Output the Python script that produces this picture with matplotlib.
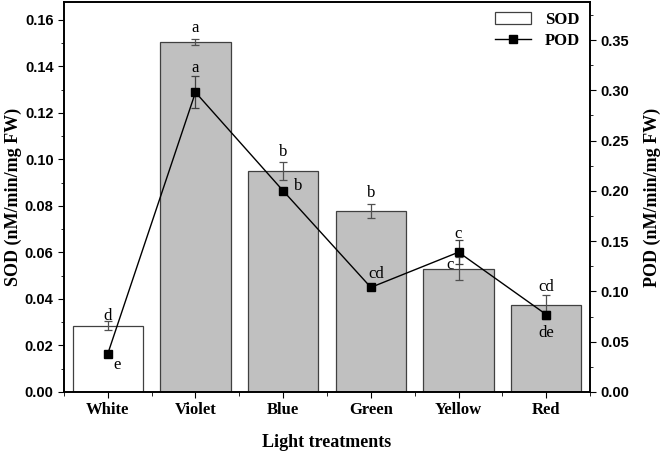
import matplotlib.pyplot as plt
import numpy as np
from matplotlib.ticker import MultipleLocator

# Daten
treatments = ["White", "Violet", "Blue", "Green", "Yellow", "Red"]
sod = [0.0285, 0.1505, 0.095, 0.078, 0.053, 0.0375]
sod_err = [0.002, 0.0012, 0.004, 0.003, 0.005, 0.004]
pod = [0.038, 0.298, 0.200, 0.104, 0.139, 0.077]
pod_err = [0.002, 0.016, 0.003, 0.002, 0.012, 0.004]
sod_letters = ["d", "a", "b", "b", "c", "cd"]
pod_letters = ["e", "a", "b", "cd", "c", "de"]

serif = "Liberation Serif"
sans = "Liberation Sans"

fig = plt.figure(figsize=(6.66, 4.54), dpi=100)
ax = fig.add_axes([0.096, 0.1366, 0.79, 0.859])
x = np.arange(len(treatments))

colors = ["white"] + ["#c0c0c0"] * 5
ax.bar(x, sod, width=0.8, color=colors, edgecolor="#404040", linewidth=0.9, label="SOD", zorder=2)
ax.errorbar(x, sod, yerr=sod_err, fmt="none", ecolor="#505050", elinewidth=0.9, capsize=3, capthick=0.9, zorder=3)
ax.set_xlim(-0.5, 5.5)
ax.set_ylim(0, 0.1677)
ax.yaxis.set_major_locator(MultipleLocator(0.02))
ax.yaxis.set_minor_locator(MultipleLocator(0.01))
ax.set_xticks(x)
ax.set_xticks(np.arange(-0.5, 6, 1), minor=True)
ax.set_xticklabels(treatments, fontfamily=serif, fontweight="bold", fontsize=12)
ax.yaxis.set_major_formatter(plt.FuncFormatter(lambda v, p: "%.2f" % v))
for lab in ax.get_yticklabels():
    lab.set_fontfamily(sans)
    lab.set_fontweight("bold")
    lab.set_fontsize(10.5)
ax.tick_params(axis="y", which="major", direction="out", length=4, labelsize=10.5)
ax.tick_params(axis="y", which="minor", direction="out", length=2.5)
ax.tick_params(axis="x", which="major", direction="out", length=4, pad=3)
ax.tick_params(axis="x", which="minor", direction="out", length=3)
ax.set_xlabel("Light treatments", fontfamily=serif, fontweight="bold", fontsize=13, labelpad=12)
ax.set_ylabel("SOD (nM/min/mg FW)", fontfamily=serif, fontweight="bold", fontsize=13, labelpad=2)

ax2 = ax.twinx()
ax2.set_ylim(0, 0.3878)
ax2.plot(x, pod, color="black", marker="s", markersize=6, linewidth=1, label="POD", zorder=4)
ax2.errorbar(x, pod, yerr=pod_err, fmt="none", ecolor="#404040", elinewidth=0.9, capsize=3, capthick=0.9)
ax2.yaxis.set_major_locator(MultipleLocator(0.05))
ax2.yaxis.set_minor_locator(MultipleLocator(0.025))
ax2.yaxis.set_major_formatter(plt.FuncFormatter(lambda v, p: "%.2f" % v))
ax2.tick_params(axis="y", which="major", direction="out", length=4)
ax2.tick_params(axis="y", which="minor", direction="out", length=2.5)
for lab in ax2.get_yticklabels():
    lab.set_fontfamily(sans)
    lab.set_fontweight("bold")
    lab.set_fontsize(10.5)
ax2.set_ylabel("POD (nM/min/mg FW)", fontfamily=serif, fontweight="bold", fontsize=13, labelpad=10)

for a in (ax, ax2):
    for s in a.spines.values():
        s.set_linewidth(1.2)

# Buchstaben (Signifikanz)
sod_off = [(0, 0.0043), (0, 0.006), (0, 0.0082), (0, 0.0077), (-0.1, 0.0017), (0, 0.0077)]
for i, t in enumerate(sod_letters):
    dx, dy = sod_off[i]
    ax.text(x[i] + dx, sod[i] + dy, t, ha="center", va="center", fontfamily=serif, fontsize=12)

pod_off = [(0.11, -0.011), (0, 0.024), (0.17, 0.005), (0.06, 0.013), (0, 0.018), (0, -0.018)]
for i, t in enumerate(pod_letters):
    dx, dy = pod_off[i]
    ax2.text(x[i] + dx, pod[i] + dy, t, ha="center", va="center", fontfamily=serif, fontsize=12)

h1, l1 = ax.get_legend_handles_labels()
h2, l2 = ax2.get_legend_handles_labels()
leg = ax.legend(h1 + h2, l1 + l2, loc="upper right", frameon=False, handlelength=2.2,
                borderaxespad=0.2, labelspacing=0.3, prop={"family": serif, "weight": "bold", "size": 12})

fig.savefig("out.png", dpi=100)
